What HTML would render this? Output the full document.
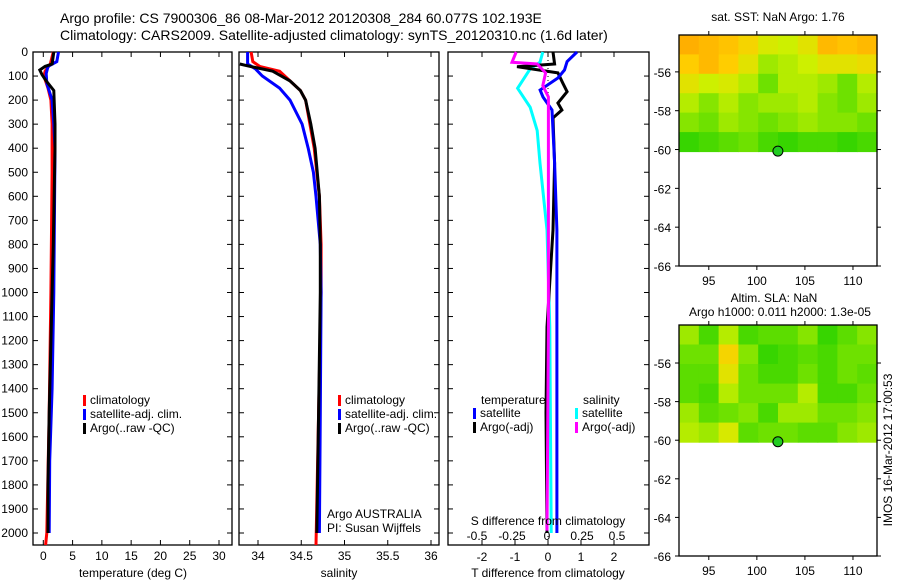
<!DOCTYPE html>
<html><head><meta charset="utf-8">
<style>
html,body{margin:0;padding:0;background:#fff;}
svg{display:block;font-family:"Liberation Sans",sans-serif;}
</style></head>
<body>
<svg id="fig" width="900" height="580" viewBox="0 0 900 580" xmlns="http://www.w3.org/2000/svg">
<text x="60" y="23" font-size="14">Argo profile: CS 7900306_86 08-Mar-2012 20120308_284 60.077S 102.193E</text>
<text x="60" y="40" font-size="14">Climatology: CARS2009. Satellite-adjusted climatology: synTS_20120310.nc (1.6d later)</text>
<g id="g"></g>
</svg>
<script>
// ---------- data ----------
const tDepth   = [0,50,80,100,150,200,300,500,1000,1500,2000,2050];
const tClim    = [1.7,1.2,0.3,0.1,0.8,1.3,1.5,1.5,1.3,1.0,0.6,0.4];
const tSatDepth= [0,40,60,90,130,200,300,400,1000,1400,1700,2000];
const tSat     = [2.6,2.3,0.8,0.5,0.6,1.5,1.8,2.0,1.8,1.5,1.1,1.0];
const tArgoDepth=[0,50,60,75,95,120,160,300,400,800,1000,1500,1800,2000];
const tArgo    = [1.8,1.5,0.3,-0.6,-0.2,0.5,1.8,2.0,2.0,1.7,1.5,1.0,0.8,0.8];

const sClimDepth=[0,40,60,80,120,160,200,300,400,600,800,1000,1500,2050];
const sClim    = [33.92,33.94,34.02,34.25,34.37,34.49,34.55,34.60,34.65,34.71,34.73,34.73,34.70,34.67];
const sSatDepth= [0,50,70,100,150,200,300,400,500,600,800,1000,1500,2000];
const sSat     = [33.88,33.88,33.97,34.05,34.25,34.37,34.51,34.58,34.64,34.67,34.72,34.73,34.72,34.71];
const sArgoDepth=[50,60,80,120,160,200,300,400,600,800,1000,1500,2000];
const sArgo    = [33.79,33.91,34.17,34.37,34.49,34.55,34.61,34.66,34.71,34.72,34.72,34.70,34.68];

const dTSatDepth=[0,40,75,108,158,187,241,462,740,1144,2000];
const dTSat    = [0.88,0.58,0.5,0.3,-0.24,-0.15,0.12,0.2,0.27,0.27,0.27];
const dTArgoDepth=[0,50,61,87,130,165,212,241,274,462,740,1144,1500,2000];
const dTArgo   = [0.15,0.2,-0.94,0.3,0.45,0.58,0.3,0.42,0.15,0.2,0.15,-0.03,-0.06,-0.03];
const dSSatDepth=[0,43,70,151,230,327,462,740,1144,2000];
const dSSat    = [-0.03,-0.05,-0.12,-0.21,-0.12,-0.07,-0.05,0,0.02,0.03];
const dSArgoDepth=[0,43,50,87,140,187,241,462,740,1144,1990];
const dSArgo   = [-0.22,-0.25,-0.07,-0.01,-0.03,0.01,0.01,0.01,0.01,0.01,0];

const depthTicks=[0,100,200,300,400,500,600,700,800,900,1000,1100,1200,1300,1400,1500,1600,1700,1800,1900,2000];
const tTicks=[0,5,10,15,20,25,30];
const sTicks=[34,34.5,35,35.5,36];
const dTTicks=[-2,-1,0,1,2];
const dSTicks=[-0.5,-0.25,0,0.25,0.5];
const latTicks=[-56,-58,-60,-62,-64,-66];
const lonTicks=[95,100,105,110];
const argoLon=102.19, argoLat=-60.08;

const sstGrid=[
[0.9,0.85,0.8,0.7,0.55,0.5,0.6,0.85,0.8,0.85],
[0.75,0.85,0.75,0.6,0.4,0.45,0.5,0.6,0.6,0.65],
[0.6,0.5,0.55,0.45,0.3,0.45,0.45,0.4,0.3,0.45],
[0.45,0.35,0.45,0.35,0.4,0.4,0.45,0.35,0.3,0.4],
[0.35,0.3,0.4,0.35,0.3,0.35,0.4,0.35,0.35,0.3],
[0.15,0.2,0.25,0.3,0.2,0.15,0.2,0.2,0.15,0.2]];
const slaGrid=[
[0.4,0.2,0.45,0.2,0.25,0.25,0.35,0.15,0.25,0.35],
[0.3,0.3,0.7,0.35,0.15,0.2,0.25,0.2,0.3,0.3],
[0.25,0.25,0.6,0.3,0.2,0.2,0.3,0.2,0.3,0.25],
[0.25,0.2,0.45,0.3,0.3,0.3,0.45,0.2,0.2,0.3],
[0.4,0.25,0.3,0.35,0.2,0.4,0.4,0.3,0.3,0.35],
[0.45,0.4,0.55,0.25,0.3,0.3,0.25,0.25,0.35,0.4]];

// ---------- helpers ----------
const NS="http://www.w3.org/2000/svg";
const G=document.getElementById('g');
function el(tag,attrs,parent){const e=document.createElementNS(NS,tag);for(const k in attrs)e.setAttribute(k,attrs[k]);(parent||G).appendChild(e);return e;}
function txt(x,y,s,anchor,size,parent){const t=el('text',{x:x,y:y,'font-size':size||12,'text-anchor':anchor||'start'},parent);t.textContent=s;return t;}
const yD=d=>52+d*0.2405;
function lin(d0,p0,d1,p1){return v=>p0+(v-d0)*(p1-p0)/(d1-d0);}
const xT=lin(0,43.3,30,219);
const xS=lin(34,258,36,431);
const xdT=lin(0,548,1,581);
const xdS=lin(0,547,0.5,617);

function frame(x0,x1,y0,y1,name){
  const r=el('rect',{x:x0,y:y0,width:x1-x0,height:y1-y0,fill:'none',stroke:'#000','stroke-width':1.3});
  
  
}
function series(xs,ds,xf,color,name,w){
  const pts=xs.map((v,i)=>xf(v).toFixed(1)+','+yD(ds[i]).toFixed(1)).join(' ');
  const p=el('polyline',{points:pts,fill:'none',stroke:color,'stroke-width':w||3,'stroke-linejoin':'miter'});
  
  
}
function xticks(vals,xf,x0,x1,y0,y1,labY,fmt,name){
  vals.forEach(v=>{const x=xf(v);
    el('line',{x1:x,y1:y0,x2:x,y2:y0+5,stroke:'#000'});
    el('line',{x1:x,y1:y1,x2:x,y2:y1-5,stroke:'#000'});
    if(labY){const t=txt(x,labY,fmt?fmt(v):String(v),'middle',12);
      
      }
  });
}
function yticks(x0,x1,withLabels){
  depthTicks.forEach(d=>{const y=yD(d);
    el('line',{x1:x0,y1:y,x2:x0+5,y2:y,stroke:'#000'});
    el('line',{x1:x1,y1:y,x2:x1-5,y2:y,stroke:'#000'});
    if(withLabels){const t=txt(28,y+4,String(d),'end',12);
      
      }
  });
}
function legendItem(mx,y,color,label,name){
  el('rect',{x:mx,y:y-9,width:3,height:11,fill:color});
  const t=txt(mx+7,y,label,'start',12);
  
  
}

// ---------- panel 1: temperature ----------
const Y0=52,Y1=545;
frame(33,232,Y0,Y1,'temperature-panel');
yticks(33,232,true);
xticks(tTicks,xT,33,232,Y0,Y1,560,null,'temperature-tick-label');
series(tClim,tDepth,xT,'#ff0000','temp-climatology-line');
series(tSat,tSatDepth,xT,'#0000ff','temp-satellite-line');
series(tArgo,tArgoDepth,xT,'#000000','temp-argo-line');
legendItem(83,404,'#ff0000','climatology','legend-climatology');
legendItem(83,418,'#0000ff','satellite-adj. clim.','legend-satellite-adj');
legendItem(83,432,'#000000','Argo(..raw -QC)','legend-argo');
{const t=txt(133,577,'temperature (deg C)','middle',12);}

// ---------- panel 2: salinity ----------
frame(239,439,Y0,Y1,'salinity-panel');
yticks(239,439,false);
xticks(sTicks,xS,239,439,Y0,Y1,560,null,'salinity-tick-label');
series(sClim,sClimDepth,xS,'#ff0000','sal-climatology-line');
series(sSat,sSatDepth,xS,'#0000ff','sal-satellite-line');
series(sArgo,sArgoDepth,xS,'#000000','sal-argo-line');
legendItem(338,404,'#ff0000','climatology','legend-climatology-2');
legendItem(338,418,'#0000ff','satellite-adj. clim.','legend-satellite-adj-2');
legendItem(338,432,'#000000','Argo(..raw -QC)','legend-argo-2');
{let t=txt(327,518,'Argo AUSTRALIA','start',12);
 t=txt(327,532,'PI: Susan Wijffels','start',12);
 t=txt(339,577,'salinity','middle',12);}

// ---------- panel 3: differences ----------
frame(448,649,Y0,Y1,'difference-panel');
yticks(448,649,false);
xticks(dTTicks,xdT,448,649,Y0,Y1,561,null,'t-diff-tick-label');
dSTicks.forEach(v=>{const t=txt(xdS(v),540,String(v).replace('0.','.').replace('-.','-0.').replace(/^\./,'0.'),'middle',12);
  t.textContent=v===0?'0':(v===0.25?'0.25':v===0.5?'0.5':v===-0.25?'-0.25':'-0.5');
  });
el('line',{x1:548,y1:Y0,x2:548,y2:Y1,stroke:'#000','stroke-width':1,'stroke-dasharray':'1,3'});
series(dSSat,dSSatDepth,xdS,'#00ffff','sdiff-satellite-line');
series(dTArgo,dTArgoDepth,xdT,'#000000','tdiff-argo-line');
series(dTSat,dTSatDepth,xdT,'#0000ff','tdiff-satellite-line');
series(dSArgo,dSArgoDepth,xdS,'#ff00ff','sdiff-argo-line');
{let t=txt(481,404,'temperature','start',12);
 t=txt(583,404,'salinity','start',12);}
legendItem(473,417,'#0000ff','satellite','legend-t-satellite');
legendItem(473,431,'#000000','Argo(-adj)','legend-t-argo');
legendItem(575,417,'#00ffff','satellite','legend-s-satellite');
legendItem(575,431,'#ff00ff','Argo(-adj)','legend-s-argo');
{let t=txt(548,525,'S difference from climatology','middle',12);
 t=txt(548,577,'T difference from climatology','middle',12);}

// ---------- maps ----------
function cmap(v){
  const stops=[[0,[0,200,0]],[0.3,[110,225,0]],[0.5,[205,240,0]],[0.75,[255,205,0]],[1,[255,155,0]]];
  for(let i=1;i<stops.length;i++){if(v<=stops[i][0]){const a=stops[i-1],b=stops[i],f=(v-a[0])/(b[0]-a[0]);
    const c=a[1].map((c0,k)=>Math.round(c0+(b[1][k]-c0)*f));return 'rgb('+c.join(',')+')';}}
  return 'rgb(255,155,0)';
}
function map(top,bottom,latTop,latBottom,grid,name,title){
  const x0=679,x1=877;
  const xL=lin(91.9,x0,112.5,x1);
  const yL=lin(latTop,top,latBottom,bottom);
  const gEl=el('g',{});
  
  
  const rows=grid.length,cols=grid[0].length;
  const yEnd=yL(-60.1);
  const cw=(x1-x0)/cols,ch=(yEnd-top)/rows;
  grid.forEach((row,r)=>row.forEach((v,c)=>{
    const cell=el('rect',{x:(x0+c*cw).toFixed(1),y:(top+r*ch).toFixed(1),width:(cw+0.6).toFixed(1),height:(ch+0.6).toFixed(1),fill:cmap(v)},gEl);
    
    
  }));
  frame(x0,x1,top,bottom,name+'-frame');
  latTicks.forEach(v=>{const y=yL(v);
    el('line',{x1:x0,y1:y,x2:x0-4,y2:y,stroke:'#000'});
    el('line',{x1:x1,y1:y,x2:x1+4,y2:y,stroke:'#000'});
    const t=txt(671,y+5,String(v),'end',12);
    });
  lonTicks.forEach(v=>{const x=xL(v);
    el('line',{x1:x,y1:top,x2:x,y2:top-4,stroke:'#000'});
    el('line',{x1:x,y1:bottom,x2:x,y2:bottom+4,stroke:'#000'});
    const t=txt(x,bottom+19,String(v),'middle',12);
    });
  const m=el('circle',{cx:xL(argoLon),cy:yL(argoLat),r:5,fill:'#22cc22',stroke:'#000','stroke-width':1});
  
  
}
map(35,266,-54.1,-66,sstGrid,'sst-map');
map(325,556,-54.03,-66,slaGrid,'sla-map');
{let t=txt(778,21,'sat. SST: NaN Argo: 1.76','middle',12);
 t=txt(774,302,'Altim. SLA: NaN','middle',12);
 t=txt(780,316,'Argo h1000: 0.011 h2000: 1.3e-05','middle',12);
 t=txt(0,0,'IMOS 16-Mar-2012 17:00:53','middle',12);t.setAttribute('transform','translate(892,450) rotate(-90)');}
</script>
</body></html>
